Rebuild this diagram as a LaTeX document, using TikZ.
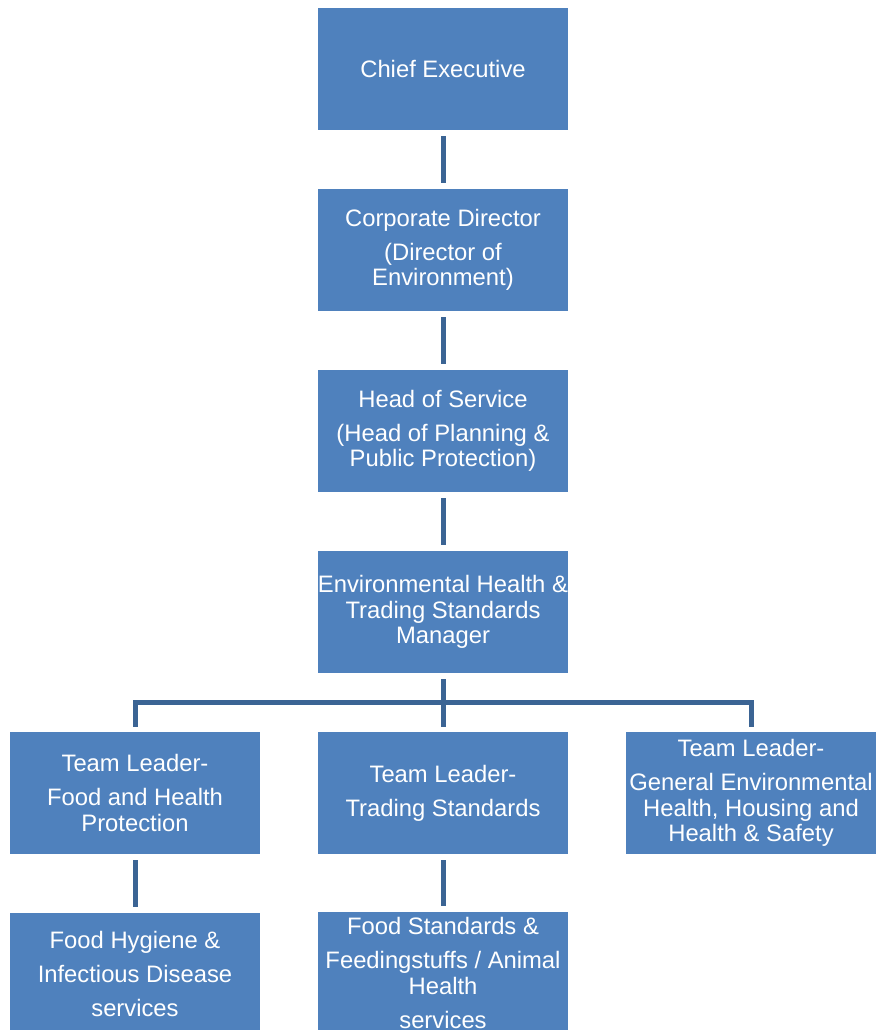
\documentclass[tikz,border=0pt]{standalone}
\usepackage{fontspec}
\setmainfont{Liberation Sans}
\definecolor{boxblue}{HTML}{4F81BD}
\definecolor{lineblue}{HTML}{3B6494}
\begin{document}
\begin{tikzpicture}[x=1pt,y=-1pt,
  orgbox/.style={fill=boxblue, draw=none, minimum width=250pt, minimum height=122pt,
    inner sep=0pt, align=center, text=white,
    font=\fontsize{23.8}{25.5}\selectfont},
  conn/.style={draw=lineblue, line width=5pt}]
\useasboundingbox (0,0) rectangle (880,1030);
\clip (0,0) rectangle (880,1030);
\node[orgbox] (ce) at (443,69) {Chief Executive};
\node[orgbox] (cd) at (443,250) {Corporate Director\\[8.5pt](Director of\\Environment)};
\node[orgbox] (hos) at (443,431) {Head of Service\\[8.5pt](Head of Planning \&\\Public Protection)};
\node[orgbox] (mgr) at (443,612) {Environmental Health \&\\Trading Standards\\Manager};
\node[orgbox] (tl1) at (135,793) {Team Leader-\\[8.5pt]Food and Health\\Protection};
\node[orgbox] (tl2) at (443,793) {Team Leader-\\[8.5pt]Trading Standards};
\node[orgbox] (tl3) at (751,793) {Team Leader-\\[8.5pt]General Environmental\\Health, Housing and\\Health \& Safety};
\node[orgbox] (b1) at (135,974) {Food Hygiene \&\\[8.5pt]Infectious Disease\\[8.5pt]services};
\node[orgbox] (b2) at (443,973) {Food Standards \&\\[8.5pt]Feedingstuffs / Animal\\Health\\[8.5pt]services};
\coordinate (bus) at (443,702);
\draw[conn] ([yshift=-6pt]ce.south) -- ([yshift=6pt]cd.north);
\draw[conn] ([yshift=-6pt]cd.south) -- ([yshift=6pt]hos.north);
\draw[conn] ([yshift=-6pt]hos.south) -- ([yshift=6pt]mgr.north);
\draw[conn] ([yshift=-6pt]mgr.south) -- ([yshift=5pt]tl2.north);
\draw[conn] ([yshift=5pt]tl1.north) |- (bus) -| ([yshift=5pt]tl3.north);
\draw[conn] ([yshift=-6pt]tl1.south) -- ([yshift=6pt]b1.north);
\draw[conn] ([yshift=-6pt]tl2.south) -- ([yshift=6pt]b2.north);
\end{tikzpicture}
\end{document}
